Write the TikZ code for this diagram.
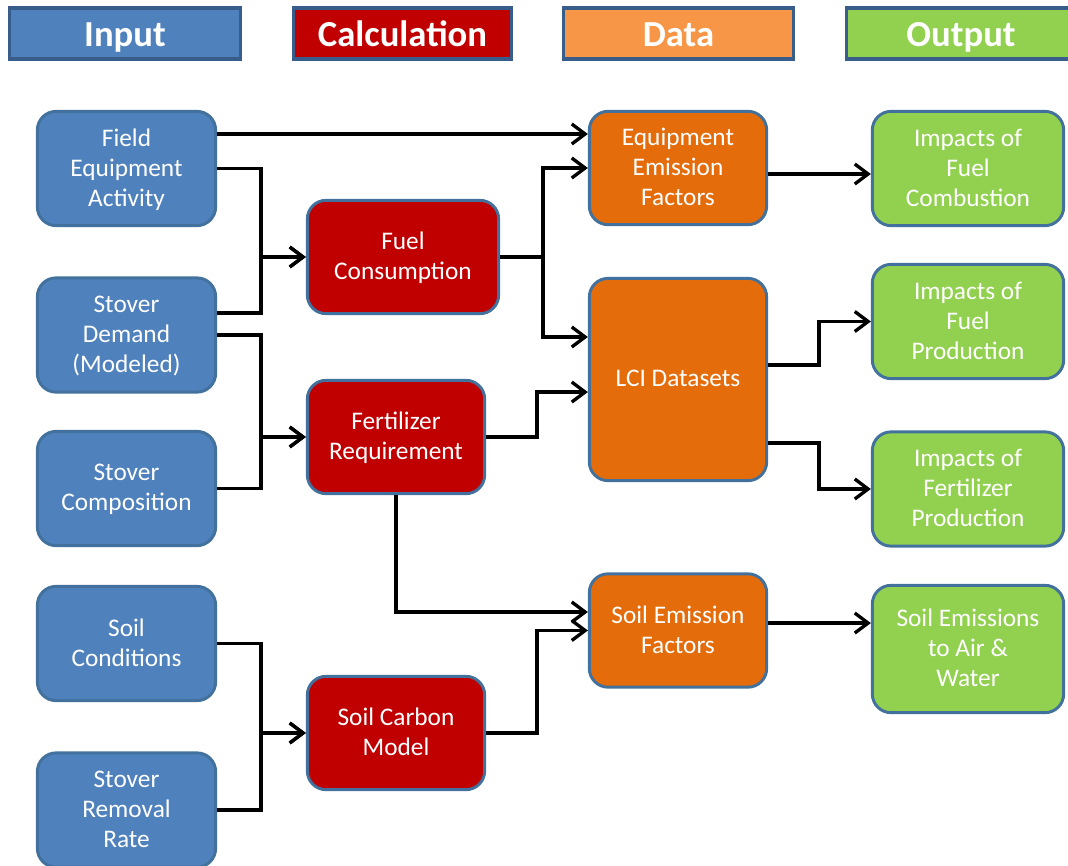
\documentclass[tikz,border=0pt]{standalone}
\usepackage{fontspec}
\setmainfont{Carlito}
\usetikzlibrary{arrows.meta, positioning}

\definecolor{inblue}{HTML}{4F81BD}
\definecolor{calcred}{HTML}{C00000}
\definecolor{dataorange}{HTML}{E46C0A}
\definecolor{keyorange}{HTML}{F79646}
\definecolor{outgreen}{HTML}{92D050}
\definecolor{edgeblue}{HTML}{41719C}
\definecolor{keyedge}{HTML}{385D8A}

\begin{document}
\begin{tikzpicture}[x=0.75pt, y=-0.75pt,
    box/.style={draw=edgeblue, line width=2.2pt, rounded corners=14pt, text=white,
      align=center, inner sep=0pt, text depth=1.5pt, font=\fontsize{19}{22.5}\selectfont},
    inbox/.style={box, fill=inblue, minimum width=133.7pt, minimum height=85.7pt},
    calcbox/.style={box, fill=calcred, minimum width=133pt, minimum height=85pt},
    databox/.style={box, fill=dataorange, minimum width=133pt, minimum height=85pt},
    outbox/.style={box, fill=outgreen, minimum width=143.5pt, minimum height=85.7pt},
    key/.style={draw=keyedge, line width=2.6pt, text=white, inner sep=0pt,
      text height=23pt, text depth=4pt,
      minimum height=38.5pt, font=\bfseries\fontsize{27.5}{30}\selectfont},
    flow/.style={line width=2.5pt, -{Straight Barb[length=10pt,width=15pt]}}]

    \useasboundingbox (0,0) rectangle (1068,865);

    % Legend
    \node[key, fill=inblue, minimum width=173.5pt] (kin) at (125,33.5) {Input};
    \node[key, fill=calcred, minimum width=163.7pt] (kcalc) at (402.5,33.5) {Calculation};
    \node[key, fill=keyorange, minimum width=172.7pt] (kdata) at (678.5,33.5) {Data};
    \node[key, fill=outgreen, minimum width=172pt] (kout) at (961,33.5) {Output};

    % Input
    \node[inbox] (field) at (126.5,168.5) {Field\\Equipment\\Activity};
    \node[inbox] (demand) at (126.5,335) {Stover\\Demand\\(Modeled)};
    \node[inbox] (comp) at (126.5,488.5) {Stover\\Composition};
    \node[inbox] (soilc) at (126.5,643.5) {Soil\\Conditions};
    \node[inbox] (removal) at (126.5,810) {Stover\\Removal\\Rate};

    % Calculation
    \node[calcbox, minimum width=143.5pt] (fuel) at (403,257) {Fuel\\Consumption};
    \node[calcbox] (fert) at (396,437) {Fertilizer\\Requirement};
    \node[calcbox] (carbon) at (396,733) {Soil Carbon\\Model};

    % Data
    \node[databox] (eqef) at (678,168) {Equipment\\Emission\\Factors};
    \node[databox, minimum height=151.7pt] (lci) at (678,379.5) {LCI Datasets};
    \node[databox] (soilef) at (678,630.5) {Soil Emission\\Factors};

    % Output
    \node[outbox] (comb) at (968,168.5) {Impacts of\\Fuel\\Combustion};
    \node[outbox] (fprod) at (968,321.5) {Impacts of\\Fuel\\Production};
    \node[outbox] (fertprod) at (968,489) {Impacts of\\Fertilizer\\Production};
    \node[outbox, minimum height=95.5pt] (soilem) at (968,649) {Soil Emissions\\to Air \&\\Water};

    % Edges
    \draw[flow] ([yshift=25.9pt]field.east) -- ([yshift=25.9pt]field.east -| eqef.west);
    \draw[flow] (field.east) -- ++(44,0) |- (fuel.west);
    \draw[flow] ([yshift=16.5pt]demand.east) -- ++(44,0) |- (fuel.west);
    \draw[flow] (demand.east) -- ++(44,0) |- (fert.west);
    \draw[flow] (comp.east) -- ++(44,0) |- (fert.west);
    \draw[flow] (soilc.east) -- ++(44,0) |- (carbon.west);
    \draw[flow] (removal.east) -- ++(44,0) |- (carbon.west);

    \draw[flow] (fuel.east) -- ++(43,0) |- (eqef.west);
    \draw[flow] (fuel.east) -- ++(43,0) |- ([yshift=31.9pt]lci.west);
    \draw[flow] (fert.east) -- ++(51,0) |- ([yshift=-9.4pt]lci.west);
    \draw[flow] (fert.south) |- ([yshift=13.9pt]soilef.west);
    \draw[flow] (carbon.east) -- ++(51,0) |- (soilef.west);

    \draw[flow] ([yshift=-4.5pt]eqef.east) -- ([yshift=-4.5pt]eqef.east -| comb.west);
    \draw[flow] ([yshift=10.9pt]lci.east) -- ++(51,0) |- (fprod.west);
    \draw[flow] ([yshift=-47.6pt]lci.east) -- ++(51,0) |- (fertprod.west);
    \draw[flow] ([yshift=5.6pt]soilef.east) -- ([yshift=5.6pt]soilef.east -| soilem.west);
\end{tikzpicture}
\end{document}
